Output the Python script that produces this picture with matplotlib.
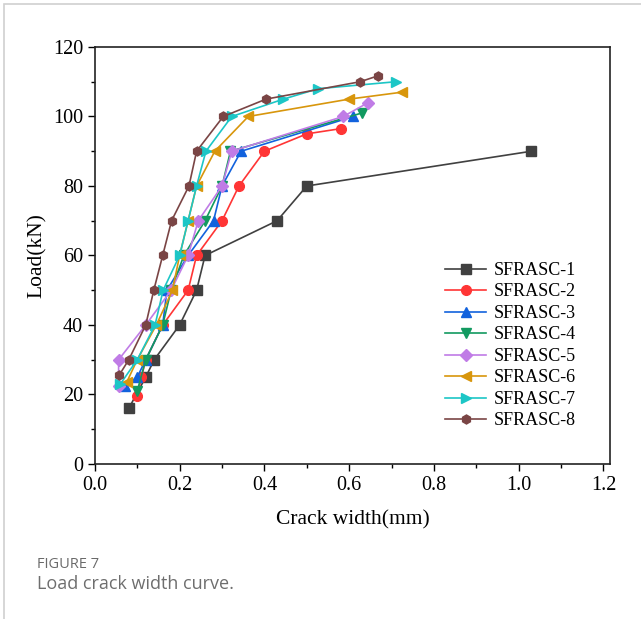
import matplotlib
matplotlib.use('Agg')
import matplotlib.pyplot as plt
from matplotlib.ticker import MultipleLocator
from matplotlib.patches import Rectangle

# series names, markers and colours
names = ['SFRASC-1', 'SFRASC-2', 'SFRASC-3', 'SFRASC-4',
         'SFRASC-5', 'SFRASC-6', 'SFRASC-7', 'SFRASC-8']
markers = ['s', 'o', '^', 'v', 'D', '<', '>', 'h']
colors = ['#404040', '#ff3535', '#1262dd', '#129a60',
          '#c07ce6', '#d8960c', '#1cc6c6', '#7a4545']

# crack width (mm) and load (kN)
w1 = [0.08, 0.12, 0.14, 0.20, 0.24, 0.26, 0.43, 0.50, 1.03]
p1 = [16, 25, 30, 40, 50, 60, 70, 80, 90]
w2 = [0.10, 0.11, 0.12, 0.16, 0.22, 0.24, 0.30, 0.34, 0.40, 0.50, 0.58]
p2 = [19.5, 25, 30, 40, 50, 60, 70, 80, 90, 95, 96.5]
w3 = [0.07, 0.10, 0.12, 0.16, 0.17, 0.22, 0.28, 0.30, 0.345, 0.61]
p3 = [22.5, 25, 30, 40, 50, 60, 70, 80, 90, 100]
w4 = [0.10, 0.12, 0.16, 0.18, 0.21, 0.26, 0.30, 0.32, 0.63]
p4 = [21, 30, 40, 50, 60, 70, 80, 90, 101]
w5 = [0.056, 0.056, 0.12, 0.18, 0.22, 0.244, 0.30, 0.323, 0.586, 0.645]
p5 = [22.5, 30, 40, 50, 60, 70, 80, 90, 100, 104]
w6 = [0.075, 0.10, 0.145, 0.183, 0.20, 0.22, 0.24, 0.283, 0.362, 0.60, 0.725]
p6 = [23.5, 30, 40, 50, 60, 70, 80, 90, 100, 105, 107]
w7 = [0.06, 0.10, 0.142, 0.161, 0.20, 0.22, 0.24, 0.262, 0.323, 0.445, 0.527, 0.71]
p7 = [23, 30, 40, 50, 60, 70, 80, 90, 100, 105, 108, 110]
w8 = [0.057, 0.08, 0.12, 0.139, 0.16, 0.181, 0.222, 0.24, 0.303, 0.404, 0.626, 0.668]
p8 = [25.5, 30, 40, 50, 60, 70, 80, 90, 100, 105, 110, 111.7]

widths = [w1, w2, w3, w4, w5, w6, w7, w8]
loads = [p1, p2, p3, p4, p5, p6, p7, p8]

serif = ['Liberation Serif', 'DejaVu Serif']

fig = plt.figure(figsize=(6.41, 6.19), dpi=100)
ax = fig.add_axes([0.148, 0.2504, 0.804, 0.6737])

for w, p, name, m, c in zip(widths, loads, names, markers, colors):
    ms = 7 if m not in ('D', 'h') else 6.5
    ax.plot(w, p, marker=m, color=c, markersize=ms, linewidth=1.2, label=name)

ax.set_xlim(0, 1.216)
ax.set_ylim(0, 120)
ax.xaxis.set_major_locator(MultipleLocator(0.2))
ax.xaxis.set_minor_locator(MultipleLocator(0.1))
ax.yaxis.set_major_locator(MultipleLocator(20))
ax.yaxis.set_minor_locator(MultipleLocator(10))
ax.tick_params(which='major', direction='out', length=5, width=1,
               top=False, right=False, labelsize=14.5)
ax.tick_params(which='minor', direction='out', length=3, width=1,
               top=False, right=False)
for lab in ax.get_xticklabels() + ax.get_yticklabels():
    lab.set_family(serif)
for sp in ax.spines.values():
    sp.set_linewidth(1.2)
    sp.set_color('#222222')

ax.set_xlabel('Crack width(mm)', fontsize=15.5, family=serif, labelpad=11)
ax.set_ylabel('Load(kN)', fontsize=15.5, family=serif, labelpad=4)

ax.legend(loc='upper left', bbox_to_anchor=(0.665, 0.502), frameon=False,
          prop={'family': serif, 'size': 13}, handlelength=2.3,
          labelspacing=0.25, handletextpad=0.4, borderaxespad=0)

# page frame and caption
fig.patches.append(Rectangle((0.006, -0.1), 1.2, 1.093, transform=fig.transFigure,
                             fill=False, edgecolor='#d0d0d0', linewidth=1.2))
fig.text(0.057, 0.083, 'FIGURE 7', fontsize=10.5, color='#6a6a6a',
         family=['Open Sans', 'DejaVu Sans'])
fig.text(0.057, 0.048, 'Load crack width curve.', fontsize=13, color='#6e6e6e',
         family=['Open Sans', 'DejaVu Sans'])

fig.savefig('out.png', dpi=100)
